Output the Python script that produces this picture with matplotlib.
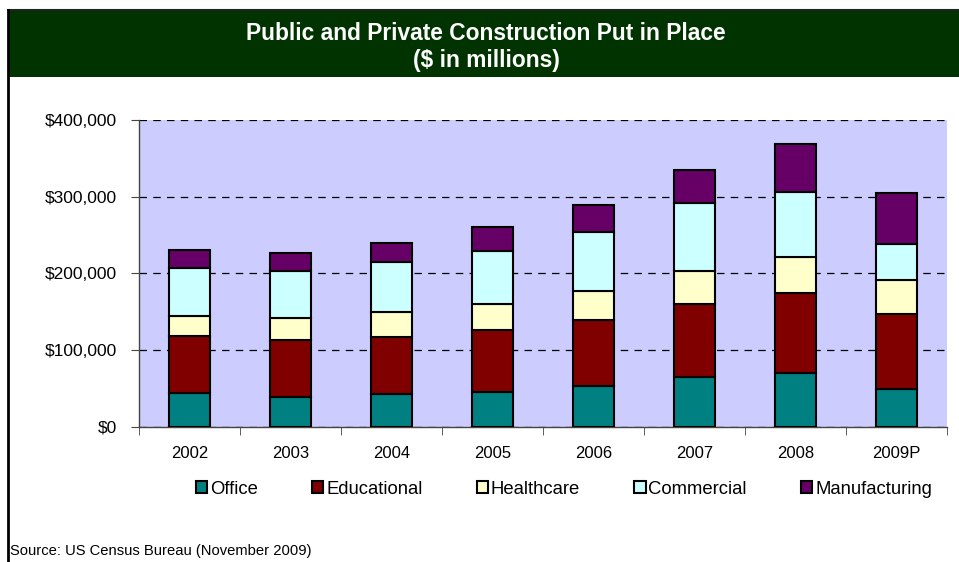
import matplotlib
matplotlib.use("Agg")
import matplotlib.pyplot as plt
from matplotlib.patches import Rectangle
from matplotlib.lines import Line2D
from matplotlib.ticker import FuncFormatter, FixedLocator
import numpy as np

plt.rcParams['font.family'] = ['Liberation Sans', 'DejaVu Sans']

years = ["2002", "2003", "2004", "2005", "2006", "2007", "2008", "2009P"]
office = [43900, 39100, 42300, 44900, 53500, 64400, 70400, 48800]
educational = [74000, 74400, 74300, 80800, 85700, 96000, 104400, 98600]
healthcare = [26900, 28700, 32600, 33900, 37800, 42700, 46900, 43900]
commercial = [61700, 61300, 65600, 69500, 76500, 88600, 84400, 46600]
manufacturing = [23900, 22600, 25200, 30900, 35600, 43100, 62200, 67300]

series = [("Office", office, "#008080"),
          ("Educational", educational, "#800000"),
          ("Healthcare", healthcare, "#FFFFCC"),
          ("Commercial", commercial, "#CCFFFF"),
          ("Manufacturing", manufacturing, "#660066")]

W, H = 959, 562
fig = plt.figure(figsize=(W / 100, H / 100), dpi=100)

# frame and title band
fig.add_artist(Rectangle((8 / W, 1 - 77 / H), 1 - 8 / W, 66 / H, transform=fig.transFigure,
                         facecolor="#003300", edgecolor="none", zorder=0))
fig.add_artist(Line2D([8 / W, 1], [1 - 10 / H, 1 - 10 / H], transform=fig.transFigure,
                      color="#222222", lw=1.5))
fig.add_artist(Line2D([8 / W, 8 / W], [0, 1 - 10 / H], transform=fig.transFigure,
                      color="black", lw=2))
fig.text(486 / W, 1 - 33 / H, "Public and Private Construction Put in Place", color="white",
         fontsize=16.4, fontweight="bold", ha="center", va="center")
fig.text(486 / W, 1 - 60 / H, "($ in millions)", color="white",
         fontsize=16.4, fontweight="bold", ha="center", va="center")

ax = fig.add_axes([139 / W, 1 - 426.7 / H, (947 - 139) / W, (426.7 - 120) / H])
ax.set_facecolor("#CCCCFF")

x = np.arange(len(years))
bottom = np.zeros(len(years))
handles = []
for name, vals, col in series:
    b = ax.bar(x, vals, width=0.41, bottom=bottom, color=col, edgecolor="black",
               linewidth=1.5, label=name, zorder=3)
    bottom += np.array(vals)
    handles.append(b)

ax.set_xlim(-0.5, len(years) - 0.5)
ax.set_ylim(0, 400000)
ax.yaxis.set_major_locator(FixedLocator([0, 100000, 200000, 300000, 400000]))
ax.yaxis.set_major_formatter(FuncFormatter(lambda v, p: "$0" if v == 0 else "${:,.0f}".format(v)))
ax.grid(axis="y", color="black", linestyle=(0, (6, 5)), linewidth=0.9, zorder=1)
ax.set_axisbelow(True)

ax.set_xticks(x)
ax.set_xticklabels(years)
ax.tick_params(axis="x", length=0, labelsize=12, pad=14)
ax.set_xticks(np.arange(-0.5, len(years)), minor=True)
ax.tick_params(axis="x", which="minor", length=6, color="#444444", direction="out")
ax.tick_params(axis="y", length=6, labelsize=12.5, color="#444444", direction="out", pad=10)

for s in ["top", "right"]:
    ax.spines[s].set_visible(False)
for s in ["left", "bottom"]:
    ax.spines[s].set_color("#444444")
    ax.spines[s].set_linewidth(1.0)

leg = fig.legend(handles=handles, labels=[s[0] for s in series], loc="center",
                 bbox_to_anchor=(564 / W, 1 - 489 / H), ncol=5, frameon=False,
                 fontsize=13.3, handlelength=0.6, handleheight=0.6, handletextpad=0.15,
                 columnspacing=2.95)

fig.text(10 / W, 1 - 551 / H, "Source: US Census Bureau (November 2009)", fontsize=10.6,
         ha="left", va="center")

fig.savefig("out.png", dpi=100)
